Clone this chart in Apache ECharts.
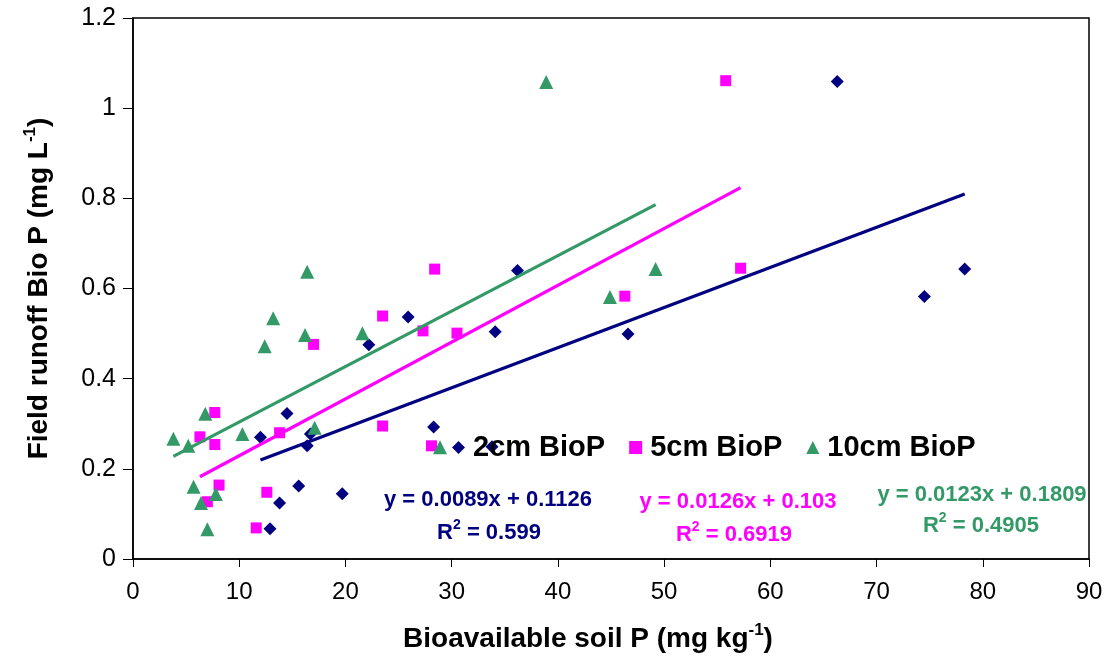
<!DOCTYPE html>
<html>
<head>
<meta charset="utf-8">
<script src="https://cdn.jsdelivr.net/npm/echarts@6/dist/echarts.min.js"></script>
<style>
html,body{margin:0;padding:0;background:#fff;}
#chart{width:1113px;height:665px;}
</style>
</head>
<body>
<div id="chart"></div>
<script>
// ---- data ----
const seriesNames = ['2cm BioP', '5cm BioP', '10cm BioP'];

const x2cm = [22.2, 14.5, 12.0, 16.7, 16.4, 15.6, 13.8, 19.7, 12.9, 25.9, 36.2, 34.1, 46.6, 28.3, 33.8, 66.3, 78.3, 74.5];
const y2cm = [0.475, 0.323, 0.270, 0.277, 0.251, 0.162, 0.124, 0.145, 0.067, 0.537, 0.640, 0.504, 0.499, 0.293, 0.249, 1.059, 0.643, 0.582];

const x5cm = [7.7, 6.3, 7.7, 13.8, 17.0, 8.1, 7.0, 12.6, 11.6, 23.5, 28.4, 27.3, 30.5, 23.5, 28.1, 46.3, 55.8, 57.2];
const y5cm = [0.325, 0.271, 0.254, 0.280, 0.476, 0.164, 0.127, 0.148, 0.069, 0.539, 0.643, 0.506, 0.501, 0.295, 0.251, 0.583, 1.061, 0.645];

const x10cm = [16.4, 13.2, 16.2, 12.4, 21.6, 6.8, 3.8, 5.2, 10.3, 17.1, 5.7, 6.4, 7.8, 7.0, 44.9, 49.2, 28.9, 38.9];
const y10cm = [0.637, 0.534, 0.497, 0.472, 0.501, 0.322, 0.267, 0.251, 0.277, 0.291, 0.160, 0.124, 0.144, 0.066, 0.581, 0.643, 0.248, 1.058];

// trendline coefficients as printed on the chart
const slopes = [0.0089, 0.0126, 0.0123];
const intercepts = [0.1126, 0.103, 0.1809];
const rSquared = ['0.599', '0.6919', '0.4905'];

const xTicks = {min: 0, max: 90, interval: 10};
const yTicks = {min: 0, max: 1.2, interval: 0.2};

// ---- styling ----
const colors = ['#000080', '#FF00FF', '#339966'];
const symbols = ['diamond', 'rect', 'triangle'];
const symbolSizes = [13, 11, 14];
const FONT = "'Liberation Sans', Arial, Helvetica, sans-serif";

const xs = [x2cm, x5cm, x10cm];
const ys = [y2cm, y5cm, y10cm];

const scatterSeries = xs.map((xArr, i) => ({
  name: seriesNames[i],
  type: 'scatter',
  symbol: symbols[i],
  symbolSize: symbolSizes[i],
  itemStyle: {color: colors[i], opacity: 1},
  data: xArr.map((x, k) => [x, ys[i][k]]),
  z: 2
}));

const trendSeries = xs.map((xArr, i) => {
  const lo = Math.min(...xArr), hi = Math.max(...xArr);
  return {
    name: 'trend' + i,
    type: 'line',
    showSymbol: false,
    symbol: 'none',
    silent: true,
    lineStyle: {color: colors[i], width: 3.2},
    data: [[lo, slopes[i] * lo + intercepts[i]], [hi, slopes[i] * hi + intercepts[i]]],
    z: 3
  };
});

const eqPos = [
  {eq: [488, 500], r2: [489, 533]},
  {eq: [738, 502], r2: [734, 535]},
  {eq: [982, 495], r2: [981, 526]}
];

const graphics = [];
eqPos.forEach((p, i) => {
  graphics.push({
    type: 'text', x: p.eq[0], y: p.eq[1], z: 10,
    style: {
      text: 'y = ' + slopes[i] + 'x + ' + intercepts[i],
      fill: colors[i], font: 'bold 22px ' + FONT,
      textAlign: 'center', textVerticalAlign: 'middle'
    }
  });
  graphics.push({
    type: 'text', x: p.r2[0], y: p.r2[1], z: 10,
    style: {
      text: '{a|R}{s|2}{a| = ' + rSquared[i] + '}',
      textAlign: 'center', textVerticalAlign: 'middle',
      rich: {
        a: {fill: colors[i], font: 'bold 22px ' + FONT},
        s: {fill: colors[i], font: 'bold 14px ' + FONT, padding: [0, 0, 16, 0]}
      }
    }
  });
});

const chart = echarts.init(document.getElementById('chart'), null, {renderer: 'canvas'});
chart.setOption({
  backgroundColor: '#ffffff',
  animation: false,
  textStyle: {fontFamily: FONT},
  grid: {
    left: 133, right: 24, top: 18, bottom: 106,
    show: true, borderColor: '#000', borderWidth: 1.5, backgroundColor: 'transparent'
  },
  legend: {
    left: 447, top: 428,
    itemGap: 24, itemWidth: 13, itemHeight: 13,
    data: [
      {name: seriesNames[0], icon: 'diamond'},
      {name: seriesNames[1], icon: 'rect'},
      {name: seriesNames[2], icon: 'triangle'}
    ],
    textStyle: {fontFamily: FONT, fontSize: 29, fontWeight: 'bold', color: '#000', padding: [0, 0, 0, 3]}
  },
  xAxis: {
    type: 'value', min: xTicks.min, max: xTicks.max, interval: xTicks.interval,
    axisLine: {show: true, onZero: false, lineStyle: {color: '#000', width: 1.5}},
    axisTick: {show: true, inside: false, length: 8, lineStyle: {color: '#000', width: 1}},
    splitLine: {show: false},
    axisLabel: {color: '#000', fontSize: 24, fontFamily: FONT, margin: 21},
    name: '{t|Bioavailable soil P (mg kg}{s|-1}{t|)}',
    nameLocation: 'middle', nameGap: 63,
    nameTextStyle: {
      padding: [0, 46, 0, 0],
      rich: {
        t: {fontSize: 28, fontWeight: 'bold', fontFamily: FONT, color: '#000'},
        s: {fontSize: 17, fontWeight: 'bold', fontFamily: FONT, color: '#000', padding: [0, 0, 18, 0]}
      }
    }
  },
  yAxis: {
    type: 'value', min: yTicks.min, max: yTicks.max, interval: yTicks.interval,
    axisLine: {show: true, onZero: false, lineStyle: {color: '#000', width: 1.5}},
    axisTick: {show: true, inside: false, length: 10, lineStyle: {color: '#000', width: 1}},
    splitLine: {show: false},
    axisLabel: {color: '#000', fontSize: 25, fontFamily: FONT, margin: 17},
    name: '{t|Field runoff Bio P (mg L}{s|-1}{t|)}',
    nameLocation: 'middle', nameGap: 76,
    nameTextStyle: {
      rich: {
        t: {fontSize: 28, fontWeight: 'bold', fontFamily: FONT, color: '#000'},
        s: {fontSize: 17, fontWeight: 'bold', fontFamily: FONT, color: '#000', padding: [0, 0, 18, 0]}
      }
    }
  },
  series: scatterSeries.concat(trendSeries),
  graphic: graphics
});
</script>
</body>
</html>
